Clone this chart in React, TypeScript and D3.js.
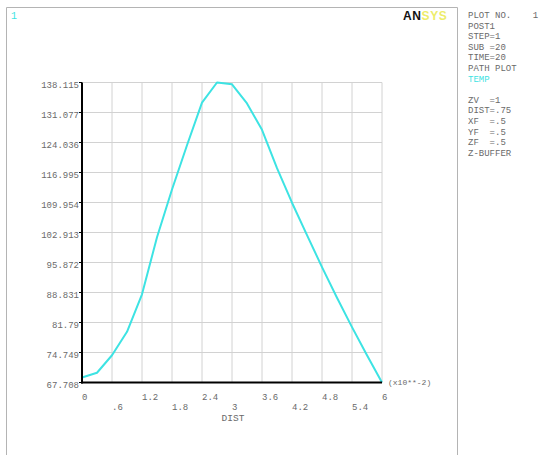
import React from 'react'
import * as d3 from 'd3'

// path plot values (DIST in x10**-2, TEMP)
const dist = [0, 0.3, 0.6, 0.9, 1.2, 1.5, 1.8, 2.1, 2.4, 2.7, 3.0, 3.3, 3.6, 3.9, 4.2, 4.5, 4.8, 5.1, 5.4, 5.7, 6.0]
const temp = [68.9, 70.0, 74.1, 79.6, 88.4, 101.8, 113.0, 123.4, 133.4, 138.115, 137.7, 133.2, 127.0, 118.0, 109.9, 102.3, 94.8, 87.6, 80.7, 74.1, 67.708]

const yTicks = [67.708, 74.749, 81.79, 88.831, 95.872, 102.913, 109.954, 116.995, 124.036, 131.077, 138.115]
const xTicks = [0, 0.6, 1.2, 1.8, 2.4, 3, 3.6, 4.2, 4.8, 5.4, 6]
const xTickLabels = ['0', '.6', '1.2', '1.8', '2.4', '3', '3.6', '4.2', '4.8', '5.4', '6']

const infoLines = ['PLOT NO.    1', 'POST1', 'STEP=1', 'SUB =20', 'TIME=20', 'PATH PLOT', 'TEMP', '', 'ZV  =1', 'DIST=.75', 'XF  =.5', 'YF  =.5', 'ZF  =.5', 'Z-BUFFER']

const W = 552
const H = 455
const margin = { top: 82.5, left: 82, right: 170, bottom: 72.5 }
const gridColor = '#d2d2d2'
const textColor = '#6a6a6a'
const curveColor = '#3de3e3'
const font = '"Liberation Mono", monospace'

export default function App() {
    const x = d3.scaleLinear().domain([0, 6]).range([margin.left, W - margin.right])
    const y = d3.scaleLinear().domain([67.708, 138.115]).range([H - margin.bottom, margin.top])

    const data = dist.map((d, i) => [d, temp[i]] as [number, number])
    const line = d3.line<[number, number]>()
        .x(d => x(d[0]))
        .y(d => y(d[1]))

    const x0 = x(0), x1 = x(6), y0 = y(67.708), y1 = y(138.115)

    return (
        <svg width={W} height={H} style={{ position: 'absolute', left: 0, top: 0, background: '#fff' }}>
            {/* window frame */}
            <path d={`M6.5,${H} V7.5 H457.5 V${H}`} fill="none" stroke="#b4b4b4" strokeWidth={1} />
            <text x={11} y={19} fontSize={10} fill={curveColor} fontFamily={font}>1</text>

            {/* logo */}
            <text x={403} y={20} fontSize={12} fontWeight={900} fontFamily='"Liberation Sans", Arial, sans-serif' letterSpacing={0.6}>
                <tspan fill="#111">AN</tspan>
                <tspan fill="#eded6a">SYS</tspan>
            </text>

            {/* info panel */}
            {infoLines.map((s, i) => (
                <text key={i} x={468} y={18 + i * 10.6} fontSize={9} fill={s === 'TEMP' ? curveColor : textColor}
                    fontFamily={font} style={{ whiteSpace: 'pre' }}>{s}</text>
            ))}

            {/* grid */}
            {xTicks.map((t, i) => (
                <line key={'gx' + i} x1={x(t)} x2={x(t)} y1={y1} y2={y0} stroke={gridColor} strokeWidth={1} />
            ))}
            {yTicks.map((t, i) => (
                <line key={'gy' + i} x1={x0} x2={x1} y1={y(t)} y2={y(t)} stroke={gridColor} strokeWidth={1} />
            ))}

            {/* curve */}
            <path d={line(data) || ''} fill="none" stroke={curveColor} strokeWidth={2} strokeLinejoin="round" />

            {/* axes */}
            <line x1={x0} x2={x0} y1={y1} y2={y0 + 1} stroke="#000" strokeWidth={2} />
            <line x1={x0 - 1} x2={x1} y1={y0} y2={y0} stroke="#000" strokeWidth={2} />
            {yTicks.map((t, i) => (
                <line key={'ty' + i} x1={x0 - 3} x2={x0} y1={y(t)} y2={y(t)} stroke="#000" strokeWidth={1} />
            ))}

            {/* y labels */}
            {yTicks.map((t, i) => (
                <text key={'ly' + i} x={x0 - 3} y={y(t) + 5.5} fontSize={9} textAnchor="end" fill={textColor} fontFamily={font}>{String(t)}</text>
            ))}

            {/* x labels, alternating rows */}
            {xTicks.map((t, i) => (
                <text key={'lx' + i} x={x(t)} y={i % 2 === 0 ? y0 + 17 : y0 + 27} fontSize={9} fill={textColor} fontFamily={font}>{xTickLabels[i]}</text>
            ))}
            <text x={(x0 + x1) / 2 + 1} y={y0 + 38} fontSize={9.5} textAnchor="middle" fill={textColor} fontFamily={font}>DIST</text>
            <text x={x1 + 6} y={y0 + 2} fontSize={8} fill={textColor} fontFamily={font}>(x10**-2)</text>
        </svg>
    )
}
